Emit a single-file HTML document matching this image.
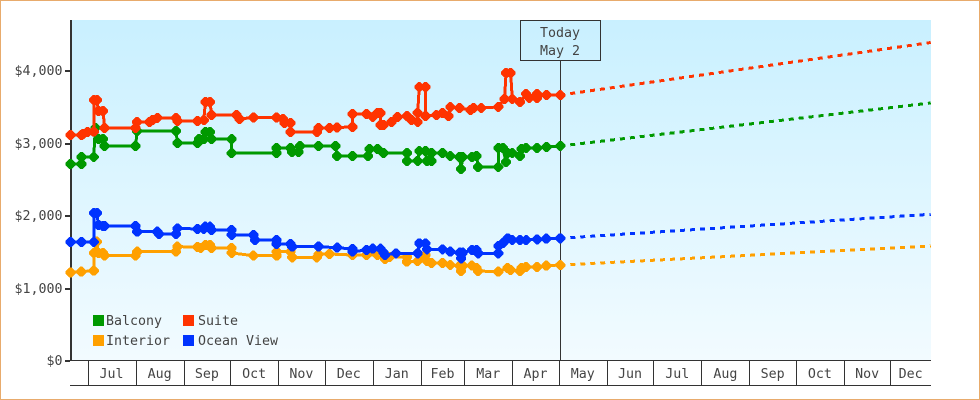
<!DOCTYPE html>
<html lang="en">
<head>
<meta charset="utf-8">
<title>Cruise price chart</title>
<style>
html,body{margin:0;padding:0;background:#fff;}
svg{display:block;}
text{font-family:"DejaVu Sans Mono","Liberation Mono",monospace;font-size:13.3px;fill:#444;}
</style>
</head>
<body>
<svg id="chart" width="980" height="400" viewBox="0 0 980 400" xmlns="http://www.w3.org/2000/svg">
  <defs>
    <linearGradient id="plotGradient" x1="0" y1="0" x2="0" y2="1">
      <stop offset="0" stop-color="#c9f0ff"/>
      <stop offset="1" stop-color="#f2fbff"/>
    </linearGradient>
  </defs>
  <rect x="0.5" y="0.5" width="979" height="399" fill="#fff" stroke="#e8ab6c" stroke-width="1"/>
  <rect x="71" y="20" width="860" height="340" fill="url(#plotGradient)"/>
  <g id="yAxis"></g>
  <g id="xAxis"></g>
  <g id="todayLayer"></g>
  <g id="seriesLayer"></g>
  <g>
    <rect x="93" y="315" width="11" height="11" fill="#009900"/>
    <text x="106" y="325">Balcony</text>
    <rect x="183" y="315" width="11" height="11" fill="#ff3300"/>
    <text x="198" y="325">Suite</text>
    <rect x="93" y="335" width="11" height="11" fill="#ffa000"/>
    <text x="106" y="345">Interior</text>
    <rect x="183" y="335" width="11" height="11" fill="#0033ff"/>
    <text x="198" y="345">Ocean View</text>
  </g>
</svg>
<script>
// Days are counted from the first sample date (June 20).
const yTicks = [0, 1000, 2000, 3000, 4000];
const yTickLabels = ["$0", "$1,000", "$2,000", "$3,000", "$4,000"];
const monthNames = ["Jul","Aug","Sep","Oct","Nov","Dec","Jan","Feb","Mar","Apr","May","Jun","Jul","Aug","Sep","Oct","Nov","Dec"];
const monthStartDays = [11,42,73,103,134,164,195,226,254,285,315,346,376,407,438,468,499,529];
const lastDay = 555;
const todayDay = 316;

const balconyDays = [0,7,7,15,16,18,21,22,42,43,68,69,82,83,86,87,90,91,104,104,133,133,142,143,147,148,160,171,172,182,192,193,198,202,217,217,224,225,229,230,233,233,240,245,251,252,253,259,262,263,276,276,279,281,282,285,290,291,294,301,307,316];
const balconyPrices = [2710,2710,2807,2807,3207,3055,3055,2959,2959,3166,3166,3000,3000,3055,3055,3152,3152,3055,3055,2862,2862,2931,2931,2876,2876,2959,2959,2959,2821,2821,2821,2917,2917,2862,2862,2752,2752,2890,2890,2752,2752,2862,2862,2821,2807,2641,2807,2807,2821,2669,2669,2931,2931,2738,2862,2862,2821,2917,2931,2931,2945,2959];

const interiorDays = [0,7,15,15,17,18,21,22,42,43,68,69,82,84,87,90,91,104,104,118,133,133,142,143,159,160,167,182,191,198,203,206,217,217,224,229,230,233,240,245,251,252,253,259,262,263,276,282,284,290,291,294,301,307,316];
const interiorPrices = [1211,1225,1239,1483,1639,1483,1483,1446,1446,1501,1501,1570,1566,1552,1593,1593,1552,1552,1483,1446,1446,1501,1501,1423,1423,1465,1469,1455,1455,1455,1400,1428,1428,1363,1372,1455,1372,1345,1345,1317,1308,1234,1308,1308,1276,1234,1225,1276,1248,1234,1276,1290,1290,1308,1317];

const suiteDays = [0,7,8,11,15,15,17,18,21,22,42,43,51,53,56,68,69,82,86,87,90,91,107,109,118,133,137,138,142,142,159,160,167,172,182,182,191,195,198,200,200,202,207,211,217,220,224,224,225,229,229,236,240,244,245,251,258,260,265,276,280,281,284,285,290,294,296,301,301,307,316];
const suitePrices = [3110,3110,3124,3152,3156,3593,3593,3441,3441,3207,3207,3290,3290,3317,3345,3345,3303,3303,3317,3566,3566,3386,3386,3331,3352,3352,3331,3276,3276,3152,3152,3207,3207,3214,3221,3400,3400,3359,3414,3414,3248,3248,3290,3359,3372,3317,3290,3414,3772,3772,3372,3386,3414,3372,3497,3483,3455,3483,3483,3497,3607,3966,3966,3607,3566,3676,3621,3621,3676,3662,3662];

const oceanDays = [0,7,15,15,17,18,21,22,42,43,56,57,68,69,82,86,87,90,91,104,104,118,119,133,133,142,143,160,172,182,182,191,195,200,202,203,210,224,225,229,230,240,245,251,252,253,259,262,263,276,276,279,282,285,290,294,301,307,316];
const oceanPrices = [1634,1634,1634,2034,2034,1869,1855,1855,1855,1777,1777,1745,1745,1823,1814,1814,1845,1845,1800,1800,1731,1731,1662,1662,1607,1607,1570,1570,1556,1538,1501,1524,1542,1542,1487,1455,1479,1479,1617,1617,1534,1534,1501,1487,1410,1487,1524,1524,1479,1479,1579,1621,1686,1662,1662,1662,1672,1680,1686];

const forecastDays = [316, 555];
const balconyForecast = [2959, 3552];
const interiorForecast = [1317, 1579];
const suiteForecast = [3662, 4386];
const oceanForecast = [1686, 2017];

const SVG_NS = "http://www.w3.org/2000/svg";
const PLOT_LEFT = 70.5, PX_PER_DAY = 1.55, Y_ZERO = 360.5, PX_PER_DOLLAR = 0.0725;
function xScale(day) { return PLOT_LEFT + day * PX_PER_DAY; }
function yScale(price) { return Y_ZERO - price * PX_PER_DOLLAR; }
function make(tag, parent, attrs) {
  const el = document.createElementNS(SVG_NS, tag);
  for (const k in attrs) el.setAttribute(k, attrs[k]);
  parent.appendChild(el);
  return el;
}
function markerShape(cx, cy) {
  const a = 5, b = 1.2;
  return [[-a,-b],[-b,-a],[b,-a],[a,-b],[a,b],[b,a],[-b,a],[-a,b]]
    .map(function (p) { return (cx + p[0]) + "," + (cy + p[1]); }).join(" ");
}

// Y axis
const yAxis = document.getElementById("yAxis");
const yLine = make("rect", yAxis, {x: 70, y: 20, width: 2, height: 341, fill: "#333"});


yTicks.forEach(function (v, i) {
  const y = Math.floor(yScale(v));
  const tick = make("rect", yAxis, {x: 65, y: y, width: 5, height: 2, fill: "#333"});
  
  
  const label = make("text", yAxis, {x: 62.5, y: y + 5, "text-anchor": "end"});
  
  
  label.textContent = yTickLabels[i];
});

// X axis
const xAxis = document.getElementById("xAxis");
const xTop = make("rect", xAxis, {x: 70, y: 360, width: 861, height: 1, fill: "#333"});


const xBottom = make("rect", xAxis, {x: 70, y: 385, width: 861, height: 1, fill: "#333"});


monthStartDays.forEach(function (day, i) {
  const px = Math.round(xScale(day));
  const sep = make("rect", xAxis, {x: px, y: 360, width: 1, height: 25, fill: "#333"});
  
  
  const next = i + 1 < monthStartDays.length ? monthStartDays[i + 1] : lastDay;
  const label = make("text", xAxis, {x: (xScale(day) + xScale(next)) / 2, y: 378, "text-anchor": "middle"});
  
  
  label.textContent = monthNames[i];
});

// Today marker
const todayLayer = document.getElementById("todayLayer");
const todayX = Math.round(xScale(todayDay));
const todayLine = make("rect", todayLayer, {x: todayX, y: 60, width: 1, height: 300, fill: "#333"});


const todayBox = make("rect", todayLayer, {x: 520.5, y: 20.5, width: 80, height: 40, fill: "none", stroke: "#333", "stroke-width": 1});


const todayText1 = make("text", todayLayer, {x: 560, y: 37, "text-anchor": "middle"});


todayText1.textContent = "Today";
const todayText2 = make("text", todayLayer, {x: 560, y: 55, "text-anchor": "middle"});


todayText2.textContent = "May 2";

// Series
const seriesLayer = document.getElementById("seriesLayer");
function drawSeries(key, color, days, prices, fDays, fPrices) {
  const g = make("g", seriesLayer, {});
  
  
  const pts = days.map(function (d, i) { return xScale(d) + "," + yScale(prices[i]); }).join(" ");
  const line = make("polyline", g, {points: pts, fill: "none", stroke: color, "stroke-width": 3, "stroke-linejoin": "round", "shape-rendering": "crispEdges"});
  
  
  const fPts = fDays.map(function (d, i) { return xScale(d) + "," + yScale(fPrices[i]); }).join(" ");
  const forecast = make("polyline", g, {points: fPts, fill: "none", stroke: color, "stroke-width": 3, "stroke-dasharray": "5 5", "shape-rendering": "crispEdges"});
  
  
  days.forEach(function (d, i) {
    const dot = make("polygon", g, {points: markerShape(xScale(d), yScale(prices[i])), fill: color, "shape-rendering": "crispEdges"});
    
    
  });
}
drawSeries("balcony", "#009900", balconyDays, balconyPrices, forecastDays, balconyForecast);
drawSeries("interior", "#ffa000", interiorDays, interiorPrices, forecastDays, interiorForecast);
drawSeries("suite", "#ff3300", suiteDays, suitePrices, forecastDays, suiteForecast);
drawSeries("ocean-view", "#0033ff", oceanDays, oceanPrices, forecastDays, oceanForecast);
</script>
</body>
</html>
